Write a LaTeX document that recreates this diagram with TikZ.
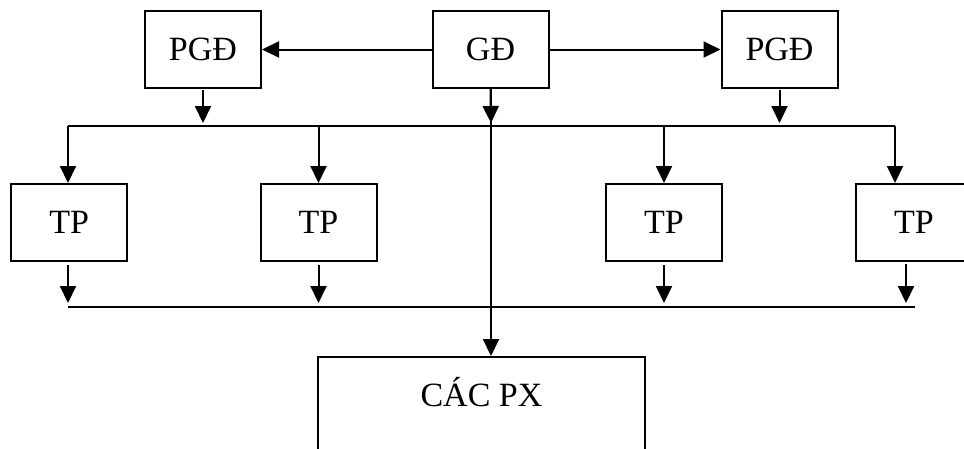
\documentclass[tikz,border=0pt]{standalone}
\usepackage{fontspec}
\setmainfont{Liberation Serif}
\usetikzlibrary{arrows.meta}
\begin{document}
\begin{tikzpicture}[x=1pt,y=-1pt,
  box/.style={draw,line width=2pt,rectangle,minimum width=116pt,minimum height=77pt,inner sep=0pt,font=\fontsize{34}{36}\selectfont},
  conn/.style={line width=2pt},
  arr/.style={line width=2pt,-{Triangle[length=17pt,width=16pt]}}]
\clip (0,0) rectangle (964,448);
\useasboundingbox (0,0) rectangle (964,448);
% top row
\node[box] (pgd1) at (203,49.5) {PGĐ};
\node[box] (gd) at (490.5,49.5) {GĐ};
\node[box] (pgd2) at (779.5,49.5) {PGĐ};
% TP row
\node[box] (tp1) at (69.3,222.5) {TP};
\node[box] (tp2) at (318.5,222.5) {TP};
\node[box] (tp3) at (664,222.5) {TP};
\node[box] (tp4) at (914,222.5) {TP};
% bottom box
\node[draw,line width=2pt,rectangle,minimum width=327pt,minimum height=130pt,anchor=north,inner sep=0pt] (px) at (481.5,356) {};
\node[font=\fontsize{34}{36}\selectfont] (pxt) at (481.5,392) {CÁC PX};
% bus coordinates
\coordinate (busL) at (68,126);
\coordinate (busR) at (895,126);
\coordinate (b1) at (203,126);
\coordinate (b2) at (779.5,126);
\coordinate (bg) at (491,126);
\coordinate (lowL) at (68,307);
\coordinate (lowR) at (915,307);
% horizontal arrows
\draw[arr] (gd.west) -- (pgd1.east);
\draw[arr] (gd.east) -- (pgd2.west);
% down arrows to bus
\draw[arr] ([yshift=-1pt]pgd1.south) -- ([yshift=3pt]b1);
\draw[arr] ([yshift=-1pt]pgd2.south) -- ([yshift=3pt]b2);
\draw[arr] (gd.south) -- ([yshift=3pt]bg);
% top bus
\draw[conn] (busL) -- (busR);
% drops to TP
\draw[arr] (busL) -- (busL |- tp1.north);
\draw[arr] (318.5,126) -- (tp2.north);
\draw[arr] (664,126) -- (tp3.north);
\draw[arr] (busR) -- (busR |- tp4.north);
% TP down arrows
\draw[arr] ([yshift=-3pt]tp1.south -| lowL) -- ([yshift=4pt]lowL);
\draw[arr] ([yshift=-3pt]tp2.south) -- ([yshift=4pt]tp2.south |- lowL);
\draw[arr] ([yshift=-3pt]tp3.south) -- ([yshift=4pt]tp3.south |- lowL);
\draw[arr] (906,264) -- (906,303);
% bottom bus
\draw[conn] (lowL) -- (lowR);
% GD trunk to CAC PX
\draw[arr] (gd.south -| bg) -- (px.north -| bg);
\end{tikzpicture}
\end{document}
